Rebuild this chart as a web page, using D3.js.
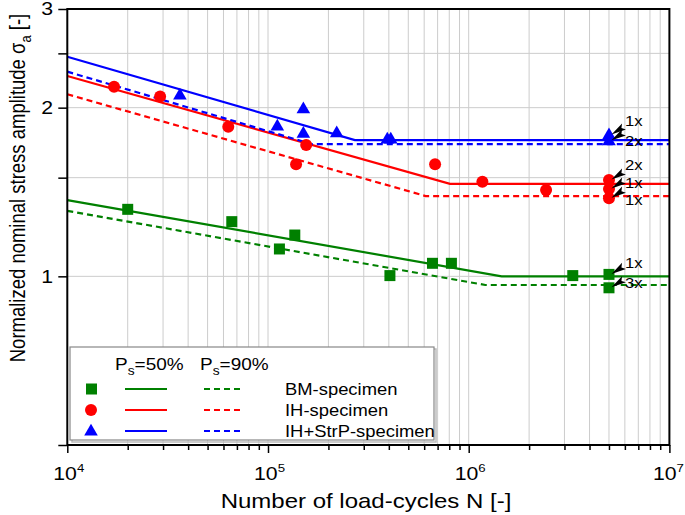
<!DOCTYPE html>
<html><head><meta charset="utf-8">
<script src="https://cdn.jsdelivr.net/npm/d3@7"></script>
<style>body{margin:0;background:#fff}</style>
</head><body>
<svg id="chart" width="685" height="515"></svg>
<script>
// ---------- data ----------
const xMajorTicks = [1e4, 1e5, 1e6, 1e7];
const xTickExponents = ["4", "5", "6", "7"];
const yTickValues = [0.5, 1, 1.5, 2, 2.5, 3];
const yTickLabels = ["", "1", "", "2", "", "3"];

// test points (N, sigma_a)
const bmN = [2.0e4, 6.6e4, 1.14e5, 1.36e5, 4.05e5, 6.6e5, 8.2e5, 3.3e6, 5e6, 5e6];
const bmS = [1.317, 1.252, 1.119, 1.185, 1.003, 1.055, 1.055, 1.003, 1.008, 0.954];
const ihN = [1.71e4, 2.9e4, 6.34e4, 1.38e5, 1.55e5, 6.8e5, 1.17e6, 2.43e6, 5e6, 5e6, 5e6];
const ihS = [2.180, 2.093, 1.850, 1.585, 1.716, 1.585, 1.475, 1.426, 1.486, 1.432, 1.379];
const strpN = [3.64e4, 1.113e5, 1.5e5, 1.5e5, 2.2e5, 3.93e5, 4.09e5, 5e6, 5e6];
const strpS = [2.107, 1.855, 1.990, 1.800, 1.804, 1.758, 1.758, 1.788, 1.745];

// S-N curves (start, knee, end)
const bm50N = [1e4, 1.46e6, 1e7];   const bm50S = [1.368, 1.0, 1.0];
const bm90N = [1e4, 1.21e6, 1e7];   const bm90S = [1.309, 0.965, 0.965];
const ih50N = [1e4, 8.07e5, 1e7];   const ih50S = [2.278, 1.462, 1.462];
const ih90N = [1e4, 6.1e5, 1e7];    const ih90S = [2.113, 1.391, 1.391];
const strp50N = [1e4, 2.71e5, 1e7]; const strp50S = [2.466, 1.750, 1.750];
const strp90N = [1e4, 1.65e5, 1e7]; const strp90S = [2.319, 1.722, 1.722];

// run-out count annotations
const annotText = ["1x", "2x", "2x", "1x", "1x", "1x", "3x"];
const annotSeries = ["strp", "strp", "ih", "ih", "ih", "bm", "bm"];
const annotIndex = [7, 8, 8, 9, 10, 8, 9];

const legendNames = ["BM-specimen", "IH-specimen", "IH+StrP-specimen"];

// ---------- layout / style ----------
const annotLabelDy = [-14, 0, -15, -6, 2, -11, -5];
const colors = {bm: "#008000", ih: "#ff0000", strp: "#0000ff"};
const FONT = "Liberation Sans, Arial, Helvetica, sans-serif";
const SX = 1.15;

const svg = d3.select("#chart");
const x = d3.scaleLog().domain([1e4, 1e7]).range([67.3, 669.4]);
const y = d3.scaleLog().domain([0.5, 3]).range([445, 9]);

// minor ticks
const xAll = [];
for (let e = 4; e < 7; e++) for (let k = 1; k <= 9; k++) xAll.push(k * Math.pow(10, e));
xAll.push(1e7);
const xMinor = xAll.filter(v => !xMajorTicks.includes(v));

// grid
const grid = svg.append("g");
grid.selectAll("line.v").data(xAll.filter(v => v > 1e4 && v < 1e7)).join("line")
  .attr("x1", d => x(d)).attr("x2", d => x(d)).attr("y1", y(3)).attr("y2", y(0.5))
  .attr("stroke", "#cccccc").attr("stroke-width", 1);
grid.selectAll("line.h").data(yTickValues.filter(v => v > 0.5 && v < 3)).join("line")
  .attr("x1", x(1e4)).attr("x2", x(1e7)).attr("y1", d => y(d)).attr("y2", d => y(d))
  .attr("stroke", "#cccccc").attr("stroke-width", 1);

// curves
const lineGen = d3.line().x(d => x(d[0])).y(d => y(d[1]));
const curves = [
  [bm50N, bm50S, "bm", false], [bm90N, bm90S, "bm", true],
  [ih50N, ih50S, "ih", false], [ih90N, ih90S, "ih", true],
  [strp50N, strp50S, "strp", false], [strp90N, strp90S, "strp", true]
];
curves.forEach(([ns, ss, key, dashed]) => {
  svg.append("path").datum(ns.map((n, i) => [n, ss[i]]))
    .attr("d", lineGen).attr("fill", "none")
    .attr("stroke", colors[key]).attr("stroke-width", 2.2)
    .attr("stroke-dasharray", dashed ? "6,4" : null);
});

// markers
const series = {
  bm: bmN.map((n, i) => [n, bmS[i]]),
  ih: ihN.map((n, i) => [n, ihS[i]]),
  strp: strpN.map((n, i) => [n, strpS[i]])
};
svg.append("g").selectAll("rect").data(series.bm).join("rect")
  .attr("x", d => x(d[0]) - 5.5).attr("y", d => y(d[1]) - 5.5)
  .attr("width", 11).attr("height", 11).attr("fill", colors.bm);
svg.append("g").selectAll("circle").data(series.ih).join("circle")
  .attr("cx", d => x(d[0])).attr("cy", d => y(d[1])).attr("r", 6)
  .attr("fill", colors.ih);
const tri = d3.symbol().type(d3.symbolTriangle).size(80);
svg.append("g").selectAll("path").data(series.strp).join("path")
  .attr("d", tri).attr("transform", d => `translate(${x(d[0])},${y(d[1]) + 0.5})`)
  .attr("fill", colors.strp);

// annotations
annotText.forEach((t, i) => {
  const p = series[annotSeries[i]][annotIndex[i]];
  const px = x(p[0]), py = y(p[1]);
  const T = [px + 2.5, py - 0.5], B = [px + 15, py - 8.5];
  const len = Math.hypot(B[0] - T[0], B[1] - T[1]);
  const u = [(B[0] - T[0]) / len, (B[1] - T[1]) / len];
  const n = [-u[1], u[0]];
  const w = 3.6;
  const N = [B[0] - u[0] * 3, B[1] - u[1] * 3];
  svg.append("path")
    .attr("d", `M${T}L${B[0] + n[0] * w},${B[1] + n[1] * w}L${N}L${B[0] - n[0] * w},${B[1] - n[1] * w}Z`)
    .attr("fill", "#000");
  svg.append("text")
    .attr("transform", `translate(${px + 16},${py + annotLabelDy[i]}) scale(${SX},1)`)
    .attr("dominant-baseline", "central")
    .attr("font-family", FONT).attr("font-size", 14.5).attr("fill", "#000")
    .text(t);
});

// axes
const axisG = svg.append("g");
axisG.append("g").attr("transform", `translate(0,${y(0.5)})`)
  .call(d3.axisBottom(x).tickValues(xMajorTicks).tickSize(8).tickFormat(""))
  .call(g => g.select(".domain").remove());
axisG.append("g").attr("transform", `translate(0,${y(0.5)})`)
  .call(d3.axisBottom(x).tickValues(xMinor).tickSize(5).tickFormat(""))
  .call(g => g.select(".domain").remove());
axisG.append("g").attr("transform", `translate(${x(1e4)},0)`)
  .call(d3.axisLeft(y).tickValues(yTickValues).tickSize(9).tickFormat(""))
  .call(g => g.select(".domain").remove());
axisG.selectAll("line").attr("stroke", "#000").attr("stroke-width", 1.5);

// frame
svg.append("rect").attr("x", x(1e4)).attr("y", y(3))
  .attr("width", x(1e7) - x(1e4)).attr("height", y(0.5) - y(3))
  .attr("fill", "none").attr("stroke", "#000").attr("stroke-width", 2);

// tick labels
xMajorTicks.forEach((v, i) => {
  const t = svg.append("text")
    .attr("transform", `translate(${x(v) + (i === 3 ? -1 : 1.5)},480) scale(${SX},1)`)
    .attr("text-anchor", "middle").attr("font-family", FONT).attr("font-size", 18.5);
  t.append("tspan").text("10");
  t.append("tspan").attr("dy", -8).attr("font-size", 11.5).text(xTickExponents[i]);
});
yTickValues.forEach((v, i) => {
  if (!yTickLabels[i]) return;
  svg.append("text")
    .attr("transform", `translate(53,${y(v)}) scale(${SX},1)`)
    .attr("text-anchor", "end").attr("dominant-baseline", "central")
    .attr("font-family", FONT).attr("font-size", 18.5).text(yTickLabels[i]);
});

// axis titles
svg.append("text")
  .attr("transform", `translate(366,508) scale(1.2,1)`)
  .attr("text-anchor", "middle").attr("font-family", FONT).attr("font-size", 20)
  .text("Number of load-cycles N [-]");
const yl = svg.append("text")
  .attr("transform", `translate(25,188) rotate(-90) scale(1,${SX})`)
  .attr("text-anchor", "middle").attr("font-family", FONT).attr("font-size", 18.5);
yl.append("tspan").text("Normalized nominal stress amplitude σ");
yl.append("tspan").attr("dy", 5).attr("font-size", 13).text("a");
yl.append("tspan").attr("dy", -5).text(" [-]");

// legend
const lg = svg.append("g");
lg.append("rect").attr("x", 72).attr("y", 349).attr("width", 364).attr("height", 93)
  .attr("fill", "none").attr("stroke", "#bbb").attr("stroke-width", 1.5);
lg.append("rect").attr("x", 70).attr("y", 347).attr("width", 364).attr("height", 93)
  .attr("fill", "#fff").attr("stroke", "#888").attr("stroke-width", 1.2);
[["50%", 115], ["90%", 200]].forEach(([p, lx]) => {
  const t = lg.append("text").attr("transform", `translate(${lx},370) scale(${SX},1)`)
    .attr("font-family", FONT).attr("font-size", 16.5);
  t.append("tspan").text("P");
  t.append("tspan").attr("dy", 5).attr("font-size", 12).text("s");
  t.append("tspan").attr("dy", -5).text("=" + p);
});
const rowY = [389, 410, 431];
const keys = ["bm", "ih", "strp"];
keys.forEach((k, i) => {
  const cy = rowY[i];
  if (k === "bm") lg.append("rect").attr("x", 86).attr("y", cy - 5.5).attr("width", 11).attr("height", 11).attr("fill", colors.bm);
  if (k === "ih") lg.append("circle").attr("cx", 91).attr("cy", cy).attr("r", 6).attr("fill", colors.ih);
  if (k === "strp") lg.append("path").attr("d", tri).attr("transform", `translate(91,${cy + 0.5})`).attr("fill", colors.strp);
  lg.append("line").attr("x1", 125).attr("x2", 167).attr("y1", cy).attr("y2", cy)
    .attr("stroke", colors[k]).attr("stroke-width", 2.2);
  lg.append("line").attr("x1", 204).attr("x2", 241).attr("y1", cy).attr("y2", cy)
    .attr("stroke", colors[k]).attr("stroke-width", 2.2).attr("stroke-dasharray", "6,4");
  lg.append("text").attr("transform", `translate(285,${cy}) scale(${SX},1)`)
    .attr("dominant-baseline", "central").attr("font-family", FONT).attr("font-size", 16)
    .text(legendNames[i]);
});
</script>
</body></html>
